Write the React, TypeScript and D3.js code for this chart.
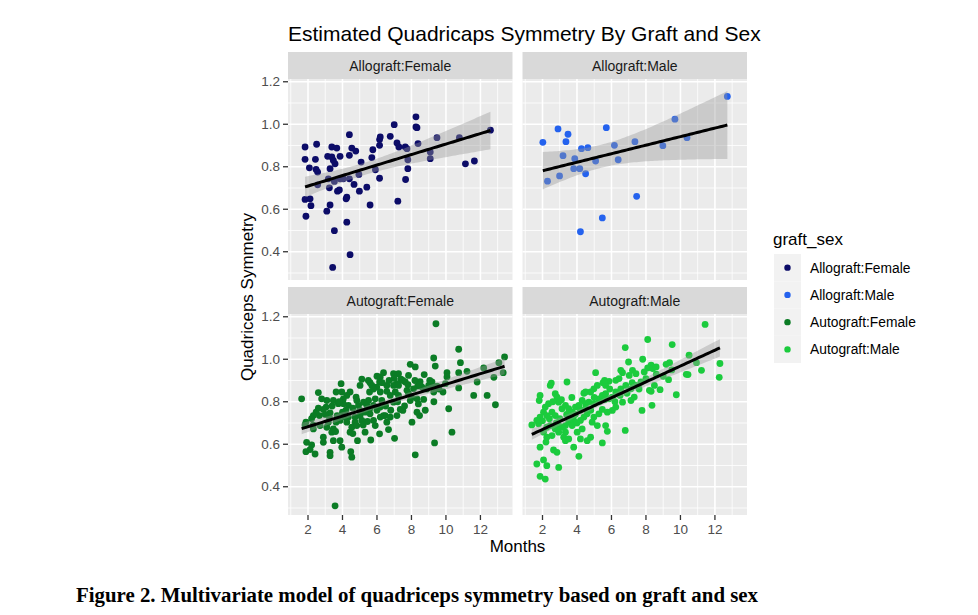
import React from "react";
import * as d3 from "d3";

// ---------------- data ----------------
const groups = ["Allograft:Female", "Allograft:Male", "Autograft:Female", "Autograft:Male"];
const groupColors = ["#0C0C68", "#2462EE", "#0B7C25", "#1BCB3D"];
const xTicks = [2, 4, 6, 8, 10, 12];
const yTicks = [0.4, 0.6, 0.8, 1.0, 1.2];
const xTickLabels = ["2", "4", "6", "8", "10", "12"];
const yTickLabels = ["0.4", "0.6", "0.8", "1.0", "1.2"];

// [months, symmetry]
const allograftFemale: [number, number][] = [
  [1.83, 0.893], [1.83, 0.835], [2.08, 0.795], [2.5, 0.906], [2.43, 0.835], [2.47, 0.787], [2.56, 0.775],
  [2.56, 0.715], [1.83, 0.646], [2.12, 0.649], [2.17, 0.617], [1.88, 0.567], [3.09, 0.591], [3.28, 0.62],
  [3.24, 0.701], [3.18, 0.743], [3.14, 0.849], [3.28, 0.791], [3.38, 0.893], [3.67, 0.888], [3.38, 0.846],
  [3.57, 0.814], [3.47, 0.83], [3.86, 0.849], [3.53, 0.731], [3.86, 0.743], [3.71, 0.685], [3.82, 0.691],
  [4.25, 0.657], [4.21, 0.649], [4.05, 0.743], [4.4, 0.743], [3.53, 0.499], [3.43, 0.326], [4.25, 0.539],
  [4.44, 0.386], [4.4, 0.951], [4.4, 0.854], [4.54, 0.888], [4.77, 0.874], [4.67, 0.717], [4.98, 0.685],
  [4.95, 0.764], [5.08, 0.822], [5.41, 0.704], [5.6, 0.62], [5.7, 0.843], [5.76, 0.88], [5.91, 0.786],
  [6.15, 0.746], [6.15, 0.901], [6.15, 0.928], [6.19, 0.94], [6.77, 0.943], [7.0, 0.998], [7.16, 0.912],
  [7.27, 0.893], [7.21, 0.638], [7.64, 0.893], [7.74, 0.885], [7.79, 0.833], [7.79, 0.791], [7.66, 0.74],
  [8.26, 1.035], [8.26, 0.987], [8.32, 0.984], [8.38, 0.909], [9.09, 0.869], [9.09, 0.838], [9.48, 0.937],
  [10.78, 0.937], [11.13, 0.814], [11.65, 0.827], [12.58, 0.972],
];

const allograftMale: [number, number][] = [
  [2.02, 0.915], [2.29, 0.732], [2.9, 0.978], [2.99, 0.757], [3.19, 0.852], [3.36, 0.918], [3.48, 0.953],
  [3.87, 0.838], [3.81, 0.791], [4.16, 0.791], [4.2, 0.494], [4.26, 0.885], [4.5, 0.767], [4.63, 0.89],
  [5.08, 0.827], [5.47, 0.559], [5.7, 0.984], [6.17, 0.901], [6.39, 0.833], [7.36, 0.918], [7.46, 0.661],
  [8.98, 0.899], [9.68, 1.024], [10.38, 0.937], [12.72, 1.131],
];

const autograftFemale: [number, number][] = [
  [9.42, 1.167], [10.74, 1.047], [9.29, 1.006], [10.84, 0.984], [13.4, 1.011], [13.07, 0.984], [9.38, 0.968],
  [7.93, 0.976], [8.22, 0.964], [5.12, 0.906], [6.38, 0.937], [6.19, 0.917], [6.15, 0.893], [5.6, 0.89],
  [7.25, 0.932], [7.39, 0.906], [7.64, 0.893], [7.83, 0.924], [8.74, 0.928], [10.06, 0.937], [10.74, 0.937],
  [11.22, 0.943], [12.19, 0.959], [12.78, 0.915], [13.32, 0.937], [11.81, 0.893], [10.74, 0.865], [10.06, 0.917],
  [9.97, 0.885], [9.19, 0.893], [9.0, 0.877], [8.61, 0.869], [8.36, 0.874], [8.12, 0.861], [7.74, 0.854],
  [7.16, 0.885], [6.96, 0.877], [6.57, 0.877], [5.99, 0.869], [5.7, 0.877], [6.19, 0.846], [6.57, 0.849],
  [6.77, 0.83], [7.06, 0.846], [7.25, 0.83], [7.83, 0.838], [7.93, 0.806], [8.32, 0.814], [8.71, 0.811],
  [9.29, 0.846], [9.48, 0.874], [9.83, 0.846], [10.16, 0.767], [11.61, 0.83], [12.39, 0.83], [12.87, 0.786],
  [10.35, 0.657], [9.34, 0.606], [8.22, 0.55], [8.47, 0.735], [8.03, 0.704], [7.5, 0.759], [7.02, 0.628],
  [6.67, 0.669], [6.57, 0.704], [6.48, 0.735], [6.15, 0.649], [5.9, 0.688], [5.6, 0.743], [5.64, 0.62],
  [5.45, 0.707], [5.31, 0.657], [5.12, 0.712], [5.02, 0.735], [4.87, 0.617], [4.93, 0.783], [4.73, 0.704],
  [4.54, 0.68], [4.44, 0.657], [4.48, 0.565], [4.54, 0.539], [4.34, 0.783], [4.44, 0.846], [4.25, 0.83],
  [3.96, 0.846], [3.92, 0.885], [3.63, 0.846], [3.47, 0.806], [3.76, 0.791], [4.05, 0.791], [4.0, 0.751],
  [4.15, 0.728], [3.86, 0.712], [3.63, 0.704], [3.47, 0.672], [3.38, 0.657], [3.47, 0.617], [3.86, 0.617],
  [3.96, 0.586], [3.18, 0.704], [3.24, 0.728], [3.28, 0.748], [3.05, 0.775], [3.09, 0.806], [2.89, 0.764],
  [2.6, 0.843], [2.66, 0.735], [2.79, 0.814], [2.47, 0.751], [2.31, 0.735], [2.21, 0.72], [1.88, 0.704],
  [1.83, 0.691], [1.92, 0.609], [1.88, 0.565], [2.21, 0.597], [2.12, 0.575], [2.41, 0.554], [2.89, 0.633],
  [2.89, 0.609], [3.28, 0.562], [3.28, 0.546], [1.63, 0.814], [3.57, 0.31], [8.32, 0.751], [5.31, 0.751],
  [5.8, 0.783], [6.19, 0.775], [6.96, 0.798], [6.28, 0.806], [5.51, 0.806], [5.22, 0.798], [4.79, 0.822],
  [5.02, 0.877], [4.05, 0.814], [4.83, 0.806], [5.57, 0.846], [6.38, 0.735], [6.77, 0.728], [7.35, 0.764],
  [7.16, 0.735], [6.19, 0.728], [5.8, 0.712], [4.34, 0.728], [4.73, 0.728], [2.31, 0.672], [2.7, 0.688],
  [3.09, 0.68], [3.69, 0.735], [4.25, 0.704], [4.83, 0.688], [5.41, 0.783], [5.9, 0.814], [7.25, 0.877],
  [6.96, 0.932], [9.06, 0.9], [8.5, 0.895],
  [5.5, 0.9], [5.8, 0.86], [6.0, 0.92], [6.3, 0.89], [6.7, 0.9], [7.0, 0.91], [7.5, 0.9], [7.8, 0.88],
  [8.2, 0.9], [8.5, 0.88], [8.9, 0.86], [9.2, 0.87], [9.6, 0.86], [7.2, 0.8], [7.6, 0.78], [8.0, 0.82],
  [8.4, 0.79], [8.8, 0.76], [9.3, 0.8], [6.5, 0.78], [6.0, 0.76], [5.6, 0.77], [5.0, 0.76], [4.6, 0.77],
  [4.2, 0.76], [3.8, 0.8], [3.4, 0.78], [3.0, 0.74], [2.6, 0.77], [2.3, 0.69], [3.6, 0.66], [4.6, 0.65],
  [5.2, 0.69], [6.8, 0.76],
];

const autograftMale: [number, number][] = [
  [11.43, 1.164], [8.1, 1.093], [6.8, 1.055], [9.52, 1.069], [10.5, 1.019], [10.93, 0.984], [12.29, 0.98],
  [11.22, 0.948], [12.25, 0.915], [9.37, 0.984], [9.17, 0.976], [7.81, 1.0], [8.3, 0.972], [8.1, 0.959],
  [8.39, 0.956], [8.59, 0.964], [6.99, 0.987], [7.22, 0.948], [7.42, 0.932], [7.03, 0.924], [6.64, 0.937],
  [6.44, 0.909], [6.25, 0.901], [5.86, 0.896], [5.51, 0.89], [5.66, 0.877], [5.08, 0.937], [5.18, 0.877],
  [4.98, 0.861], [4.79, 0.846], [4.5, 0.846], [3.42, 0.893], [2.51, 0.888], [2.45, 0.877], [1.86, 0.83],
  [1.81, 0.806], [2.74, 0.838], [2.84, 0.822], [2.94, 0.798], [2.35, 0.791], [2.16, 0.775], [2.06, 0.751],
  [1.86, 0.728], [1.67, 0.712], [1.38, 0.691], [1.77, 0.696], [2.25, 0.735], [2.55, 0.751], [2.74, 0.735],
  [3.13, 0.767], [3.33, 0.783], [3.52, 0.767], [3.72, 0.751], [3.91, 0.775], [4.11, 0.783], [4.3, 0.806],
  [4.5, 0.791], [4.69, 0.798], [4.98, 0.791], [5.27, 0.814], [5.47, 0.83], [5.66, 0.838], [5.86, 0.814],
  [6.05, 0.822], [6.25, 0.846], [6.54, 0.861], [6.83, 0.877], [7.13, 0.861], [7.42, 0.877], [7.71, 0.893],
  [8.0, 0.909], [8.49, 0.877], [8.2, 0.854], [8.3, 0.849], [8.82, 0.857], [9.31, 0.904], [9.76, 0.833],
  [8.35, 0.783], [7.77, 0.759], [7.32, 0.822], [7.13, 0.806], [6.64, 0.798], [6.25, 0.775], [6.05, 0.759],
  [5.76, 0.751], [5.47, 0.764], [5.27, 0.743], [4.98, 0.728], [4.59, 0.743], [4.4, 0.728], [4.2, 0.712],
  [3.81, 0.712], [3.52, 0.704], [3.33, 0.688], [3.13, 0.68], [2.94, 0.688], [2.74, 0.672], [2.45, 0.688],
  [2.25, 0.68], [2.06, 0.657], [2.25, 0.633], [2.55, 0.641], [2.94, 0.657], [3.33, 0.657], [3.23, 0.633],
  [3.33, 0.617], [3.52, 0.625], [3.72, 0.688], [3.81, 0.586], [4.2, 0.625], [4.59, 0.617], [4.79, 0.633],
  [5.47, 0.606], [5.76, 0.661], [6.8, 0.665], [4.11, 0.543], [2.94, 0.491], [2.64, 0.573], [2.84, 0.562],
  [1.86, 0.586], [2.25, 0.499], [1.67, 0.507], [1.86, 0.449], [2.16, 0.436], [2.06, 0.526], [4.88, 0.704],
  [5.18, 0.688], [5.66, 0.688], [4.3, 0.672], [4.01, 0.657], [10.34, 0.929], [10.44, 0.928], [6.54, 0.948],
  [2.0, 0.71], [2.4, 0.72], [2.8, 0.7], [3.0, 0.72], [3.4, 0.74], [3.6, 0.72], [3.9, 0.74], [4.2, 0.76],
  [4.5, 0.77], [4.8, 0.76], [5.0, 0.82], [5.3, 0.8], [5.6, 0.81], [5.9, 0.86], [6.2, 0.8], [6.5, 0.83],
  [6.9, 0.84], [7.2, 0.89], [7.6, 0.86], [7.9, 0.94], [8.6, 0.93], [9.0, 0.92], [9.5, 0.95], [3.1, 0.81],
  [2.6, 0.8], [3.7, 0.82], [4.4, 0.84], [5.6, 0.9], [4.0, 0.7], [2.2, 0.61],
];

const groupData = [allograftFemale, allograftMale, autograftFemale, autograftMale];

// ---------------- layout ----------------
const W = 978;
const H = 615;
const colX = [288, 522.5];
const rowTop = [52, 287];
const stripH = 27;
const PW = 224.5;
const PH = 201;
const FONT = "'Liberation Sans', Arial, Helvetica, sans-serif";

const x = d3.scaleLinear().domain([0.84, 13.86]).range([0, PW]);
const y = d3.scaleLinear().domain([0.267, 1.213]).range([PH, 0]);

const xMinor = [1, 3, 5, 7, 9, 11, 13];
const yMinor = [0.3, 0.5, 0.7, 0.9, 1.1];

function tQuant(df: number) {
  return 1.96 + 2.4 / df + 3 / (df * df);
}

function fitLm(pts: [number, number][]) {
  const n = pts.length;
  const xb = d3.mean(pts, (p) => p[0]) as number;
  const yb = d3.mean(pts, (p) => p[1]) as number;
  let sxx = 0, sxy = 0;
  pts.forEach(([a, b]) => {
    sxx += (a - xb) * (a - xb);
    sxy += (a - xb) * (b - yb);
  });
  const slope = sxy / sxx;
  const icpt = yb - slope * xb;
  let sse = 0;
  pts.forEach(([a, b]) => {
    const r = b - (icpt + slope * a);
    sse += r * r;
  });
  const s = Math.sqrt(sse / (n - 2));
  const t = tQuant(n - 2);
  const [x0, x1] = d3.extent(pts, (p) => p[0]) as [number, number];
  const grid = d3.range(0, 80).map((i) => x0 + ((x1 - x0) * i) / 79);
  return grid.map((gx) => {
    const fit = icpt + slope * gx;
    const se = s * Math.sqrt(1 / n + ((gx - xb) * (gx - xb)) / sxx);
    return { x: gx, y: fit, lo: fit - t * se, hi: fit + t * se };
  });
}

function Panel({ idx }: { idx: number }) {
  const col = idx % 2;
  const row = Math.floor(idx / 2);
  const px = colX[col];
  const st = rowTop[row];
  const py = st + stripH;
  const pts = groupData[idx];
  const fit = fitLm(pts);
  const area = d3
    .area<{ x: number; lo: number; hi: number }>()
    .x((d) => x(d.x))
    .y0((d) => y(d.lo))
    .y1((d) => y(d.hi));
  const line = d3
    .line<{ x: number; y: number }>()
    .x((d) => x(d.x))
    .y((d) => y(d.y));
  return (
    <g>
      <rect x={px} y={st} width={PW} height={stripH} fill="#D9D9D9" />
      <text x={px + PW / 2} y={st + stripH / 2 + 5} textAnchor="middle" fontSize={14} fill="#1A1A1A" fontFamily={FONT}>
        {groups[idx]}
      </text>
      <g transform={`translate(${px},${py})`}>
        <rect x={0} y={0} width={PW} height={PH} fill="#EBEBEB" />
        {yMinor.map((v) => (
          <line key={"ym" + v} x1={0} x2={PW} y1={y(v)} y2={y(v)} stroke="#FFFFFF" strokeWidth={0.8} />
        ))}
        {xMinor.map((v) => (
          <line key={"xm" + v} y1={0} y2={PH} x1={x(v)} x2={x(v)} stroke="#FFFFFF" strokeWidth={0.8} />
        ))}
        {yTicks.map((v) => (
          <line key={"yM" + v} x1={0} x2={PW} y1={y(v)} y2={y(v)} stroke="#FFFFFF" strokeWidth={1.6} />
        ))}
        {xTicks.map((v) => (
          <line key={"xM" + v} y1={0} y2={PH} x1={x(v)} x2={x(v)} stroke="#FFFFFF" strokeWidth={1.6} />
        ))}
        {pts.map((p, i) => (
          <circle key={i} cx={x(p[0])} cy={y(p[1])} r={3.4} fill={groupColors[idx]} />
        ))}
        <path d={area(fit) || ""} fill="#999999" fillOpacity={0.4} />
        <path d={line(fit) || ""} fill="none" stroke="#000000" strokeWidth={3} />
        {col === 0 &&
          yTicks.map((v, i) => (
            <g key={"yt" + v}>
              <line x1={-5} x2={0} y1={y(v)} y2={y(v)} stroke="#333333" strokeWidth={1.3} />
              <text x={-8} y={y(v) + 4.7} textAnchor="end" fontSize={13.5} fill="#4D4D4D" fontFamily={FONT}>
                {yTickLabels[i]}
              </text>
            </g>
          ))}
        {row === 1 &&
          xTicks.map((v, i) => (
            <g key={"xt" + v}>
              <line x1={x(v)} x2={x(v)} y1={PH} y2={PH + 5} stroke="#333333" strokeWidth={1.3} />
              <text x={x(v)} y={PH + 18.5} textAnchor="middle" fontSize={13.5} fill="#4D4D4D" fontFamily={FONT}>
                {xTickLabels[i]}
              </text>
            </g>
          ))}
      </g>
    </g>
  );
}

export default function App() {
  const legendY0 = 254;
  const keyH = 27.25;
  return (
    <svg width={W} height={H} viewBox={`0 0 ${W} ${H}`} style={{ display: "block", position: "absolute", left: 0, top: 0, background: "#FFFFFF" }}>
      <rect x={0} y={0} width={W} height={H} fill="#FFFFFF" />
      <text x={288} y={41} fontSize={21} fill="#000000" fontFamily={FONT}>
        Estimated Quadricaps Symmetry By Graft and Sex
      </text>
      {groups.map((g, i) => (
        <Panel key={g} idx={i} />
      ))}
      <text x={517.5} y={552} textAnchor="middle" fontSize={17} fill="#000000" fontFamily={FONT}>
        Months
      </text>
      <text
        transform={`translate(253,297) rotate(-90)`}
        textAnchor="middle"
        fontSize={17}
        fill="#000000"
        fontFamily={FONT}
      >
        Quadriceps Symmetry
      </text>
      <text x={773} y={245} fontSize={17} fill="#000000" fontFamily={FONT}>
        graft_sex
      </text>
      {groups.map((g, i) => {
        const cy = legendY0 + keyH * i + keyH / 2;
        return (
          <g key={"lg" + g}>
            <rect x={774} y={legendY0 + keyH * i} width={27} height={keyH} fill="#F2F2F2" />
            <circle cx={787.5} cy={cy} r={3.2} fill={groupColors[i]} />
            <text x={810} y={cy + 5} fontSize={13.8} fill="#000000" fontFamily={FONT}>
              {g}
            </text>
          </g>
        );
      })}
      <text
        x={76}
        y={602}
        fontSize={20}
        fontWeight="bold"
        fill="#000000"
        fontFamily="'Liberation Serif', 'DejaVu Serif', serif"
        textLength={682}
        lengthAdjust="spacingAndGlyphs"
      >
        Figure 2.  Multivariate model of quadriceps symmetry based on graft and sex
      </text>
    </svg>
  );
}
